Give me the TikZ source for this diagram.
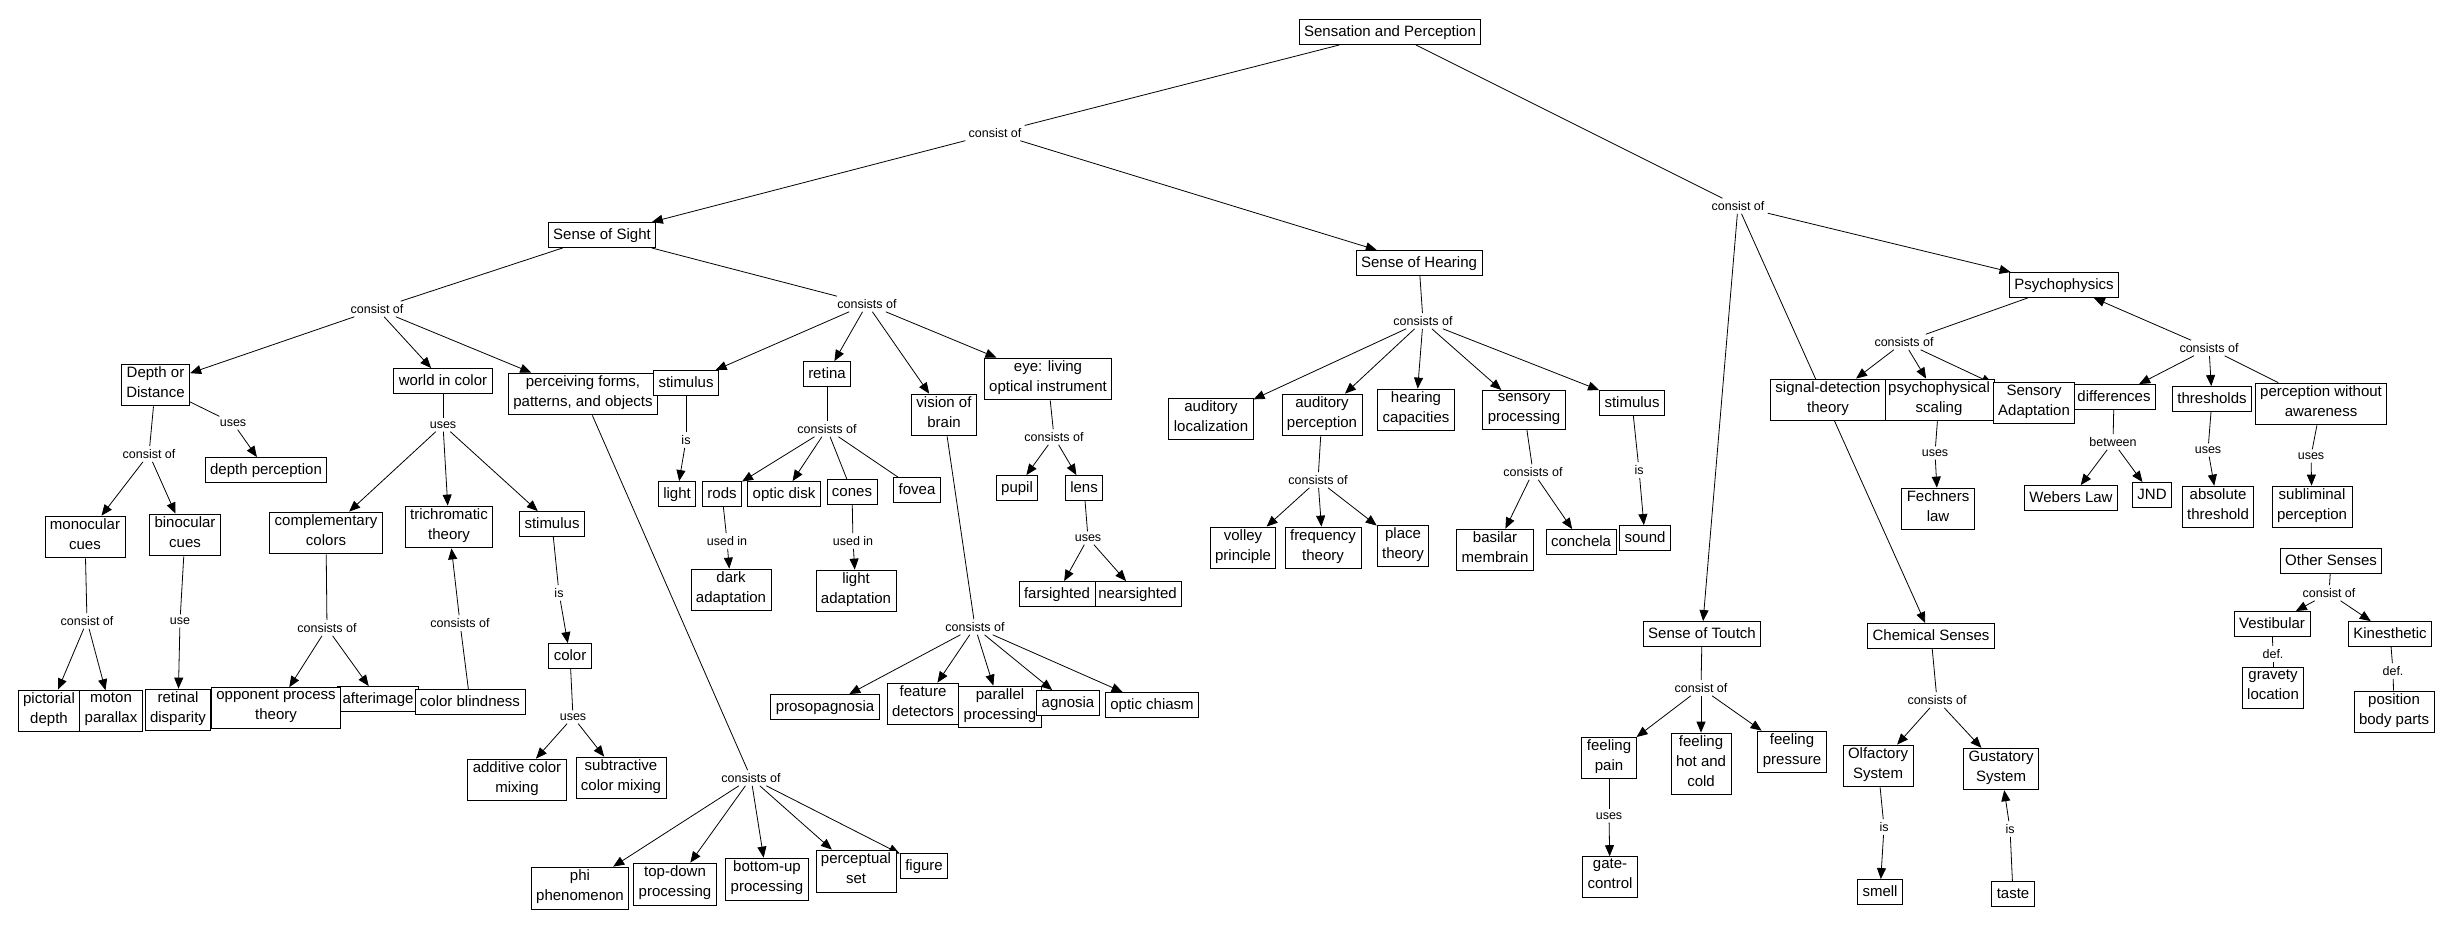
\documentclass[tikz,border=0pt]{standalone}
\usepackage{fontspec}
\setmainfont{Liberation Sans}
\usetikzlibrary{arrows.meta}
\pgfdeclarelayer{edgelayer}
\pgfdeclarelayer{bglayer}
\pgfsetlayers{bglayer,edgelayer,main}
\begin{document}
\begin{tikzpicture}[x=1pt,y=-1pt,
 cpt/.style={draw, line width=0.9pt, fill=white, align=center, font=\fontsize{15}{20}\selectfont, inner xsep=5pt, inner ysep=2.5pt, execute at begin node=\strut, execute at end node=\strut},
 lnk/.style={font=\fontsize{12.5}{14}\selectfont, inner sep=3pt},
 ln/.style={line width=0.8pt},
 ar/.style={line width=0.8pt, -{Triangle[length=11pt,width=9pt]}}]
\begin{pgfonlayer}{bglayer}
\fill[white] (0,0) rectangle (2451,930);
\end{pgfonlayer}
\useasboundingbox (0,0) rectangle (2451,930);

% concepts
\node[cpt] (SP) at (1390,32) {Sensation and Perception};
\node[cpt] (sight) at (602,235) {Sense of Sight};
\node[cpt] (hearing) at (1419,263) {Sense of Hearing};
\node[cpt] (psy) at (2064,285) {Psychophysics};
\node[cpt] (touch) at (1702,634) {Sense of Toutch};
\node[cpt] (chem) at (1931,636) {Chemical Senses};
\node[cpt] (depth) at (155.5,385) {Depth or\\Distance};
\node[cpt] (depthp) at (266,470) {depth perception};
\node[cpt] (mono) at (85,537) {monocular\\cues};
\node[cpt] (bino) at (185,535) {binocular\\cues};
\node[cpt] (pict) at (49,711) {pictorial\\depth};
\node[cpt] (moton) at (111,711) {moton\\parallax};
\node[cpt] (retdisp) at (178,710) {retinal\\disparity};
\node[cpt] (after) at (378,699) {afterimage};
\node[cpt] (opp) at (276,708) {opponent process\\theory};
\node[cpt] (cblind) at (470,702) {color blindness};
\node[cpt] (wic) at (443,381) {world in color};
\node[cpt] (comp) at (326,533) {complementary\\colors};
\node[cpt] (trich) at (449,527) {trichromatic\\theory};
\node[cpt] (stimc) at (552,524) {stimulus};
\node[cpt] (color) at (570,656) {color};
\node[cpt] (add) at (517,780) {additive color\\mixing};
\node[cpt] (sub) at (621,778) {subtractive\\color mixing};
\node[cpt] (forms) at (583,394) {perceiving forms,\\patterns, and objects};
\node[cpt] (stims) at (686,383) {stimulus};
\node[cpt] (light) at (677,494) {light};
\node[cpt] (retina) at (827,374) {retina};
\node[cpt] (rods) at (722,494) {rods};
\node[cpt] (odisk) at (784,494) {optic disk};
\node[cpt] (cones) at (852,492) {cones};
\node[cpt] (fovea) at (917,490) {fovea};
\node[cpt] (dark) at (731,590) {dark\\adaptation};
\node[cpt] (ladapt) at (856,591) {light\\adaptation};
\node[cpt] (vob) at (944,415) {vision of\\brain};
\node[cpt] (proso) at (825,707) {prosopagnosia};
\node[cpt] (feat) at (923,704) {feature\\detectors};
\node[cpt] (par) at (1000,707) {parallel\\processing};
\node[cpt] (agn) at (1068,703) {agnosia};
\node[cpt] (chiasm) at (1152,705) {optic chiasm};
\node[cpt] (eye) at (1048,379) {eye: living\\optical instrument};
\node[cpt] (pupil) at (1017,488) {pupil};
\node[cpt] (lens) at (1084,488) {lens};
\node[cpt] (near) at (1137.5,594) {nearsighted};
\node[cpt] (far) at (1057,594) {farsighted};
\node[cpt] (phi) at (580,888) {phi\\phenomenon};
\node[cpt] (topd) at (675,884) {top-down\\processing};
\node[cpt] (botu) at (767,879) {bottom-up\\processing};
\node[cpt] (pset) at (856,871) {perceptual\\set};
\node[cpt] (fig) at (924,866) {figure};
\node[cpt] (aloc) at (1211,419) {auditory\\localization};
\node[cpt] (aper) at (1322,415) {auditory\\perception};
\node[cpt] (hcap) at (1416,410) {hearing\\capacities};
\node[cpt] (sproc) at (1524,410) {sensory\\processing};
\node[cpt] (stimh) at (1632,403) {stimulus};
\node[cpt] (volley) at (1243,548) {volley\\principle};
\node[cpt] (freq) at (1323,548) {frequency\\theory};
\node[cpt] (place) at (1403,546) {place\\theory};
\node[cpt] (basil) at (1495,550) {basilar\\membrain};
\node[cpt] (conch) at (1581,542) {conchela};
\node[cpt] (sound) at (1645,538) {sound};
\node[cpt] (pscal) at (1939,400) {psychophysical\\scaling};
\node[cpt] (sdt) at (1828,400) {signal-detection\\theory};
\node[cpt] (diff) at (2114,397) {differences};
\node[cpt] (sadapt) at (2034,403) {Sensory\\Adaptation};
\node[cpt] (thr) at (2212,399) {thresholds};
\node[cpt] (pwa) at (2321,404) {perception without\\awareness};
\node[cpt] (fech) at (1938,509) {Fechners\\law};
\node[cpt] (weber) at (2071,498) {Webers Law};
\node[cpt] (jnd) at (2152,495) {JND};
\node[cpt] (absth) at (2218,507) {absolute\\threshold};
\node[cpt] (subl) at (2312,507) {subliminal\\perception};
\node[cpt] (pain) at (1609,758) {feeling\\pain};
\node[cpt] (hot) at (1701,764) {feeling\\hot and\\cold};
\node[cpt] (press) at (1792,752) {feeling\\pressure};
\node[cpt] (gate) at (1610,877) {gate-\\control};
\node[cpt] (olf) at (1878,766) {Olfactory\\System};
\node[cpt] (gust) at (2001,769) {Gustatory\\System};
\node[cpt] (smell) at (1880,892) {smell};
\node[cpt] (taste) at (2013,894) {taste};
\node[cpt] (other) at (2331,561) {Other Senses};
\node[cpt] (vest) at (2272,624) {Vestibular};
\node[cpt] (kin) at (2390,634) {Kinesthetic};
\node[cpt] (grav) at (2273,688) {gravety\\location};
\node[cpt] (pos) at (2394,712) {position\\body parts};

% linking phrases
\node[lnk] (l1) at (995,133) {consist of};
\node[lnk] (l2) at (1738,206) {consist of};
\node[lnk] (l3) at (377,309) {consist of};
\node[lnk] (l4) at (867,304) {consists of};
\node[lnk] (l5) at (1423,321) {consists of};
\node[lnk] (l6) at (1904,342) {consists of};
\node[lnk] (l7) at (2209,348) {consists of};
\node[lnk] (l8) at (149,454) {consist of};
\node[lnk] (l9) at (233,423) {uses};
\node[lnk] (l10) at (87,621) {consist of};
\node[lnk] (l11) at (180,621) {use};
\node[lnk] (l12) at (443,425) {uses};
\node[lnk] (l13) at (327,628) {consists of};
\node[lnk] (l14) at (460,623) {consists of};
\node[lnk] (l15) at (559,593) {is};
\node[lnk] (l16) at (573,717) {uses};
\node[lnk] (l17) at (751,778) {consists of};
\node[lnk] (l18) at (686,440) {is};
\node[lnk] (l19) at (827,429) {consists of};
\node[lnk] (l20) at (727,541) {used in};
\node[lnk] (l21) at (853,541) {used in};
\node[lnk] (l22) at (975,627) {consists of};
\node[lnk] (l23) at (1054,437) {consists of};
\node[lnk] (l24) at (1088,538) {uses};
\node[lnk] (l25) at (1318,480) {consists of};
\node[lnk] (l26) at (1533,472) {consists of};
\node[lnk] (l27) at (1639,470) {is};
\node[lnk] (l28) at (1935,453) {uses};
\node[lnk] (l29) at (2113,442) {between};
\node[lnk] (l30) at (2208,450) {uses};
\node[lnk] (l31) at (2311,456) {uses};
\node[lnk] (l32) at (1701,688) {consist of};
\node[lnk] (l33) at (1609,816) {uses};
\node[lnk] (l34) at (1937,700) {consists of};
\node[lnk] (l35) at (1884,827) {is};
\node[lnk] (l36) at (2010,829) {is};
\node[lnk] (l37) at (2329,593) {consist of};
\node[lnk] (l38) at (2273,654) {def.};
\node[lnk] (l39) at (2393,671) {def.};

\begin{pgfonlayer}{edgelayer}
\draw[ln] (SP) -- (l1); \draw[ar] (l1) -- (sight); \draw[ar] (l1) -- (hearing);
\draw[ln] (SP) -- (l2); \draw[ar] (l2) -- (touch); \draw[ar] (l2) -- (chem); \draw[ar] (l2) -- (psy);
\draw[ln] (sight) -- (l3); \draw[ar] (l3) -- (depth); \draw[ar] (l3) -- (wic); \draw[ar] (l3) -- (forms);
\draw[ln] (sight) -- (l4); \draw[ar] (l4) -- (stims); \draw[ar] (l4) -- (retina); \draw[ar] (l4) -- (vob); \draw[ar] (l4) -- (eye);
\draw[ln] (hearing) -- (l5); \draw[ar] (l5) -- (aloc); \draw[ar] (l5) -- (aper); \draw[ar] (l5) -- (hcap); \draw[ar] (l5) -- (sproc); \draw[ar] (l5) -- (stimh);
\draw[ln] (psy) -- (l6); \draw[ar] (l6) -- (sdt); \draw[ar] (l6) -- (pscal); \draw[ar] (l6) -- (sadapt);
\draw[ln] (pwa) -- (l7); \draw[ar] (l7) -- (psy); \draw[ar] (l7) -- (diff); \draw[ar] (l7) -- (thr);
\draw[ln] (depth) -- (l8); \draw[ar] (l8) -- (mono); \draw[ar] (l8) -- (bino);
\draw[ln] (depth) -- (l9); \draw[ar] (l9) -- (depthp);
\draw[ln] (mono) -- (l10); \draw[ar] (l10) -- (pict); \draw[ar] (l10) -- (moton);
\draw[ln] (bino) -- (l11); \draw[ar] (l11) -- (retdisp);
\draw[ln] (wic) -- (l12); \draw[ar] (l12) -- (comp); \draw[ar] (l12) -- (trich); \draw[ar] (l12) -- (stimc);
\draw[ln] (comp) -- (l13); \draw[ar] (l13) -- (opp); \draw[ar] (l13) -- (after);
\draw[ln] (cblind) -- (l14); \draw[ar] (l14) -- (trich);
\draw[ln] (stimc) -- (l15); \draw[ar] (l15) -- (color);
\draw[ln] (color) -- (l16); \draw[ar] (l16) -- (add); \draw[ar] (l16) -- (sub);
\draw[ln] (forms) -- (l17); \draw[ar] (l17) -- (phi); \draw[ar] (l17) -- (topd); \draw[ar] (l17) -- (botu); \draw[ar] (l17) -- (pset); \draw[ar] (l17) -- (fig);
\draw[ln] (stims) -- (l18); \draw[ar] (l18) -- (light);
\draw[ln] (retina) -- (l19); \draw[ar] (l19) -- (rods); \draw[ar] (l19) -- (odisk); \draw[ln] (l19) -- (cones); \draw[ln] (l19) -- (fovea);
\draw[ln] (rods) -- (l20); \draw[ar] (l20) -- (dark);
\draw[ln] (cones) -- (l21); \draw[ar] (l21) -- (ladapt);
\draw[ln] (vob) -- (l22); \draw[ar] (l22) -- (proso); \draw[ar] (l22) -- (feat); \draw[ar] (l22) -- (par); \draw[ar] (l22) -- (agn); \draw[ar] (l22) -- (chiasm);
\draw[ln] (eye) -- (l23); \draw[ar] (l23) -- (pupil); \draw[ar] (l23) -- (lens);
\draw[ln] (lens) -- (l24); \draw[ar] (l24) -- (far); \draw[ar] (l24) -- (near);
\draw[ln] (aper) -- (l25); \draw[ar] (l25) -- (volley); \draw[ar] (l25) -- (freq); \draw[ar] (l25) -- (place);
\draw[ln] (sproc) -- (l26); \draw[ar] (l26) -- (basil); \draw[ar] (l26) -- (conch);
\draw[ln] (stimh) -- (l27); \draw[ar] (l27) -- (sound);
\draw[ln] (pscal) -- (l28); \draw[ar] (l28) -- (fech);
\draw[ln] (diff) -- (l29); \draw[ar] (l29) -- (weber); \draw[ar] (l29) -- (jnd);
\draw[ln] (thr) -- (l30); \draw[ar] (l30) -- (absth);
\draw[ln] (pwa) -- (l31); \draw[ar] (l31) -- (subl);
\draw[ln] (touch) -- (l32); \draw[ar] (l32) -- (pain); \draw[ar] (l32) -- (hot); \draw[ar] (l32) -- (press);
\draw[ln] (pain) -- (l33); \draw[ar] (l33) -- (gate);
\draw[ln] (chem) -- (l34); \draw[ar] (l34) -- (olf); \draw[ar] (l34) -- (gust);
\draw[ln] (olf) -- (l35); \draw[ar] (l35) -- (smell);
\draw[ln] (taste) -- (l36); \draw[ar] (l36) -- (gust);
\draw[ln] (other) -- (l37); \draw[ar] (l37) -- (vest); \draw[ar] (l37) -- (kin);
\draw[ln] (vest) -- (l38); \draw[ln] (l38) -- (grav);
\draw[ln] (kin) -- (l39); \draw[ln] (l39) -- (pos);
\end{pgfonlayer}
\end{tikzpicture}
\end{document}
